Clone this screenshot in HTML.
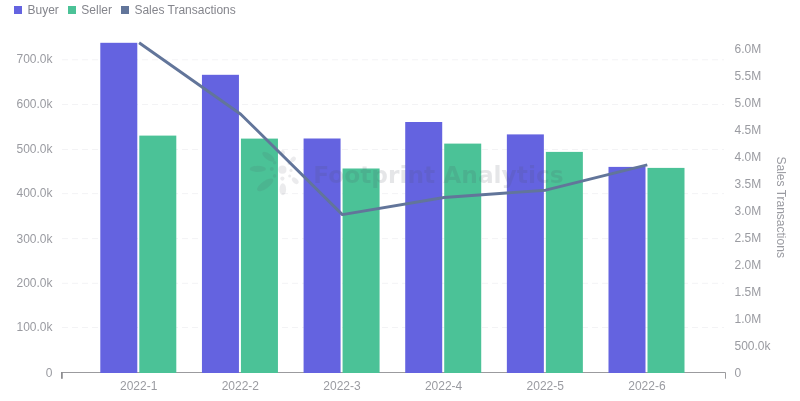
<!DOCTYPE html>
<html lang="en"><head><meta charset="utf-8"><title>Chart</title>
<style>
html,body{margin:0;padding:0;background:#fff;}
body{width:800px;height:401px;overflow:hidden;position:relative;font-family:"Liberation Sans",Arial,Helvetica,sans-serif;}
svg{position:absolute;left:0;top:0;display:block;}
svg text{font-family:"Liberation Sans",Arial,Helvetica,sans-serif;}
.tick{font-size:12px;fill:#9a9ba1;}
.leg{font-size:12px;fill:#84858c;}
</style></head><body>
<svg width="800" height="401" viewBox="0 0 800 401">
<rect width="800" height="401" fill="#fff"/>

<rect x="14" y="6" width="8" height="8" fill="#6463e0"/><text class="leg" x="27.5" y="14.3">Buyer</text>
<rect x="68" y="6" width="8" height="8" fill="#4bc297"/><text class="leg" x="81.3" y="14.3">Seller</text>
<rect x="121" y="6" width="8" height="8" fill="#62759a"/><text class="leg" x="134.4" y="14.3">Sales Transactions</text>
<text class="tick" x="52.5" y="376.80" text-anchor="end">0</text>
<text class="tick" x="52.5" y="331.00" text-anchor="end">100.0k</text>
<text class="tick" x="52.5" y="286.80" text-anchor="end">200.0k</text>
<text class="tick" x="52.5" y="242.80" text-anchor="end">300.0k</text>
<text class="tick" x="52.5" y="197.40" text-anchor="end">400.0k</text>
<text class="tick" x="52.5" y="153.30" text-anchor="end">500.0k</text>
<text class="tick" x="52.5" y="108.00" text-anchor="end">600.0k</text>
<text class="tick" x="52.5" y="63.40" text-anchor="end">700.0k</text>
<text class="tick" x="734.5" y="377.00">0</text>
<text class="tick" x="734.5" y="350.00">500.0k</text>
<text class="tick" x="734.5" y="323.00">1.0M</text>
<text class="tick" x="734.5" y="296.00">1.5M</text>
<text class="tick" x="734.5" y="269.00">2.0M</text>
<text class="tick" x="734.5" y="242.00">2.5M</text>
<text class="tick" x="734.5" y="215.00">3.0M</text>
<text class="tick" x="734.5" y="188.00">3.5M</text>
<text class="tick" x="734.5" y="161.00">4.0M</text>
<text class="tick" x="734.5" y="134.00">4.5M</text>
<text class="tick" x="734.5" y="107.00">5.0M</text>
<text class="tick" x="734.5" y="80.00">5.5M</text>
<text class="tick" x="734.5" y="53.00">6.0M</text>
<line x1="62" x2="724" y1="327.50" y2="327.50" stroke="#f3f3f5" stroke-width="1" stroke-dasharray="6 4"/>
<line x1="62" x2="724" y1="283.30" y2="283.30" stroke="#f3f3f5" stroke-width="1" stroke-dasharray="6 4"/>
<line x1="62" x2="724" y1="238.60" y2="238.60" stroke="#f3f3f5" stroke-width="1" stroke-dasharray="6 4"/>
<line x1="62" x2="724" y1="193.60" y2="193.60" stroke="#f3f3f5" stroke-width="1" stroke-dasharray="6 4"/>
<line x1="62" x2="724" y1="149.50" y2="149.50" stroke="#f3f3f5" stroke-width="1" stroke-dasharray="6 4"/>
<line x1="62" x2="724" y1="104.50" y2="104.50" stroke="#f3f3f5" stroke-width="1" stroke-dasharray="6 4"/>
<line x1="62" x2="724" y1="59.80" y2="59.80" stroke="#f3f3f5" stroke-width="1" stroke-dasharray="6 4"/>
<path d="M62 378.7 V372.5 H725.5 V378.7" fill="none" stroke="#9b9b9e" stroke-width="1"/>
<rect x="61" y="372" width="1.6" height="6.7" fill="#8e8e91"/>
<rect x="100.30" y="42.8" width="37" height="330.20" fill="#6463e0"/>
<rect x="139.30" y="135.6" width="37" height="237.40" fill="#4bc297"/>
<text class="tick" x="138.70" y="389.9" text-anchor="middle">2022-1</text>
<rect x="201.94" y="74.8" width="37" height="298.20" fill="#6463e0"/>
<rect x="240.94" y="138.6" width="37" height="234.40" fill="#4bc297"/>
<text class="tick" x="240.34" y="389.9" text-anchor="middle">2022-2</text>
<rect x="303.58" y="138.5" width="37" height="234.50" fill="#6463e0"/>
<rect x="342.58" y="168.5" width="37" height="204.50" fill="#4bc297"/>
<text class="tick" x="341.98" y="389.9" text-anchor="middle">2022-3</text>
<rect x="405.22" y="122.0" width="37" height="251.00" fill="#6463e0"/>
<rect x="444.22" y="143.6" width="37" height="229.40" fill="#4bc297"/>
<text class="tick" x="443.62" y="389.9" text-anchor="middle">2022-4</text>
<rect x="506.86" y="134.4" width="37" height="238.60" fill="#6463e0"/>
<rect x="545.86" y="151.9" width="37" height="221.10" fill="#4bc297"/>
<text class="tick" x="545.26" y="389.9" text-anchor="middle">2022-5</text>
<rect x="608.50" y="166.9" width="37" height="206.10" fill="#6463e0"/>
<rect x="647.50" y="167.9" width="37" height="205.10" fill="#4bc297"/>
<text class="tick" x="646.90" y="389.9" text-anchor="middle">2022-6</text>
<polyline points="139.10,42.8 240.74,114.2 342.38,214.6 444.02,197.5 545.66,190.2 647.30,164.8" fill="none" stroke="#62759a" stroke-width="2.9" stroke-linejoin="round"/>
<text class="tick" transform="translate(776.7 156.5) rotate(90)" x="0" y="0">Sales Transactions</text>
<g opacity="0.11" fill="#4f5362">
<g transform="translate(282.4 169.7)">
<circle r="4.1"/>
<ellipse cx="-24.6" cy="-0.8" rx="8.2" ry="3.1"/>
<ellipse cx="-14" cy="-13" rx="7.3" ry="3.1" transform="rotate(36 -14 -13)"/>
<ellipse cx="-17.2" cy="15.1" rx="9.6" ry="3.8" transform="rotate(-35 -17.2 15.1)"/>
<ellipse cx="0.4" cy="19.5" rx="3.3" ry="6"/>
<ellipse cx="0.4" cy="-17" rx="2.1" ry="2.6"/>
<ellipse cx="10.7" cy="-10.3" rx="2.2" ry="3.2" transform="rotate(45 10.7 -10.3)"/>
<ellipse cx="12.8" cy="11" rx="2.5" ry="4" transform="rotate(-45 12.8 11)"/>
<circle cx="8.6" cy="0.7" r="1.6"/>
<circle cx="0" cy="8.9" r="2.1"/>
<circle cx="-10.6" cy="-0.7" r="2"/>
<circle cx="-7.8" cy="-6.9" r="1.7"/>
<circle cx="-7.8" cy="6.2" r="1.8"/>
<circle cx="7.3" cy="6.2" r="1.5"/>
<circle cx="6.5" cy="-6" r="1.4"/>
</g>
</g>
<g opacity="0.14" fill="#4f5362">
<text x="313.2" y="182.6" font-size="23.3" font-weight="bold" style="font-family:'DejaVu Sans','Liberation Sans',sans-serif">Footprint Analytics</text>
</g>
</svg></body></html>
